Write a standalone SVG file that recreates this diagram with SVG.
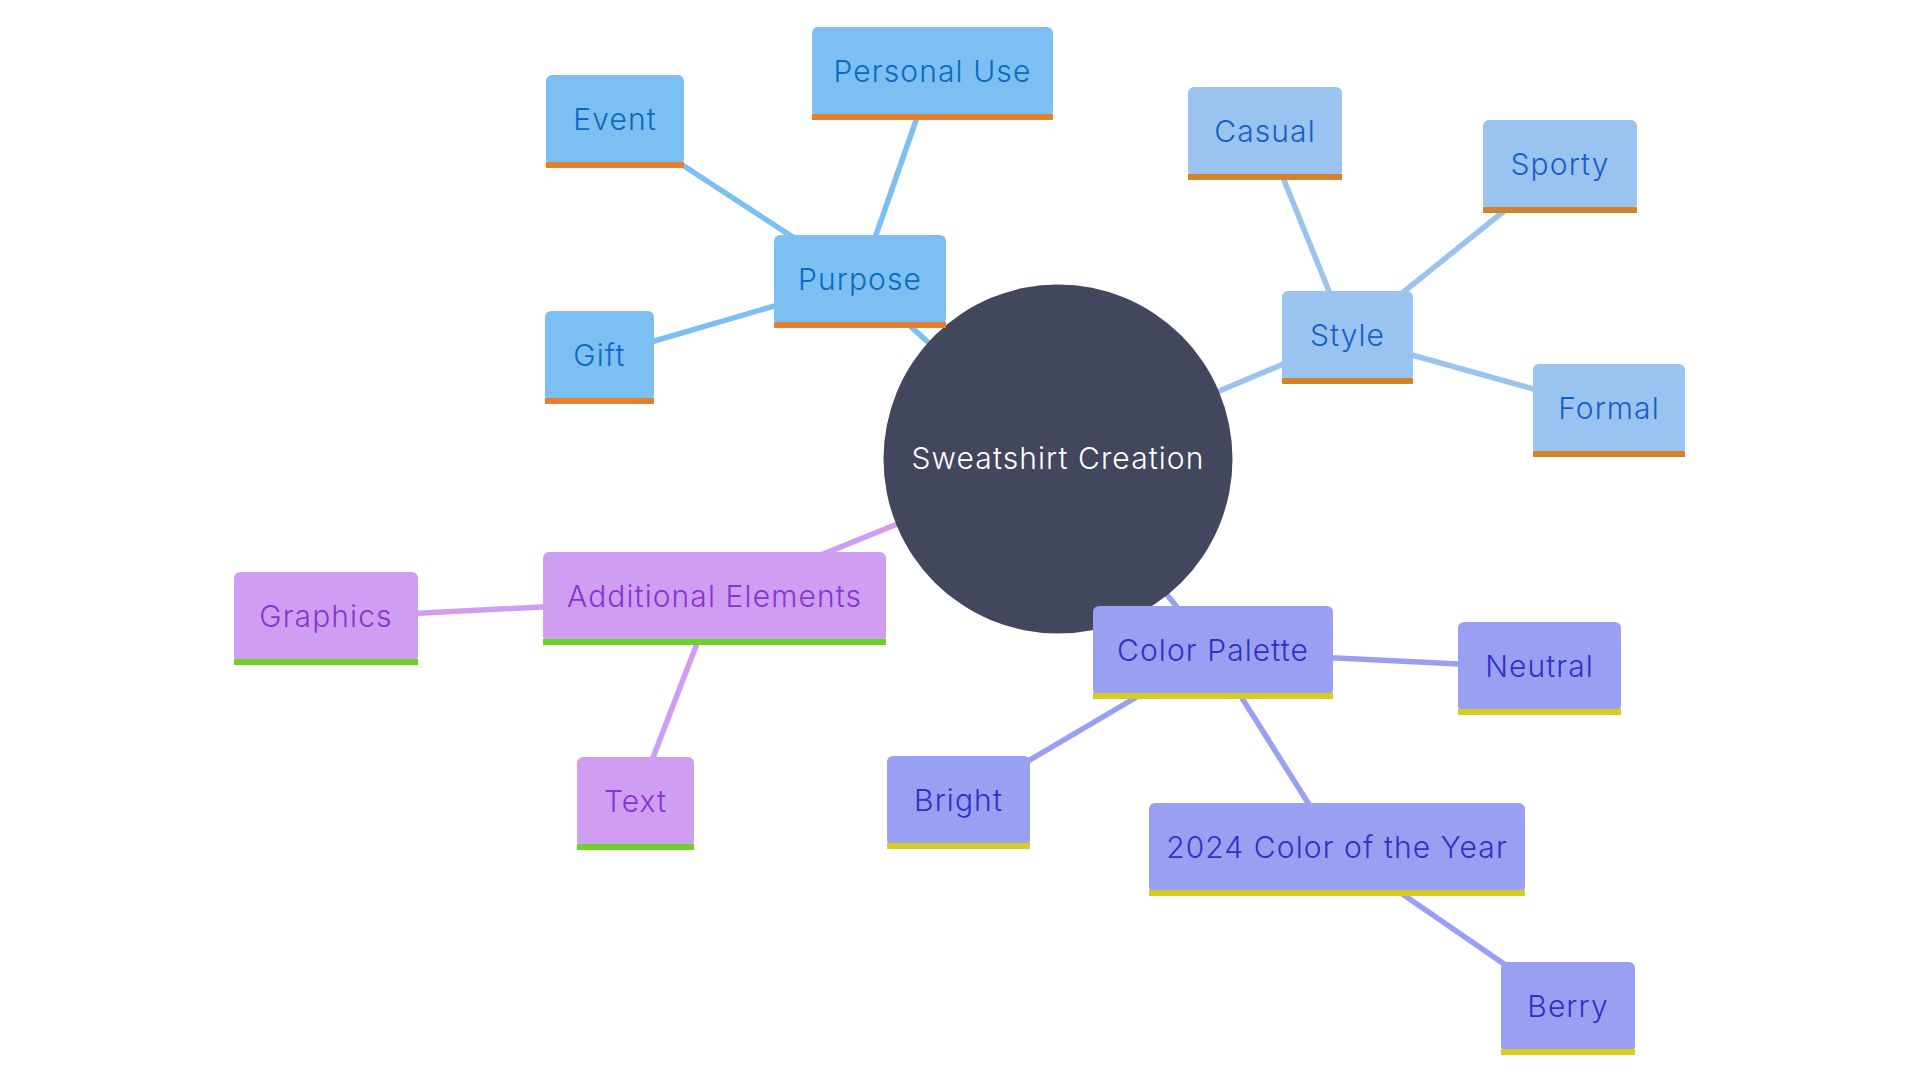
<svg xmlns="http://www.w3.org/2000/svg" width="1920" height="1080" viewBox="0 0 1920 1080">
<style>
text{font-family:Inter,"Noto Sans",sans-serif;font-size:30px;font-weight:300;letter-spacing:1.1px;text-anchor:middle;dominant-baseline:central}
.edge{stroke-width:5.5;fill:none}
.e-p{stroke:#7cbff2}.e-s{stroke:#9bc3ef}.e-a{stroke:#cf9ef2}.e-c{stroke:#99a0f2}
.n-p rect.b{fill:#7cbff2}.n-p rect.bar{fill:#e67f2f}.n-p text{fill:#0b6abf}
.n-s rect.b{fill:#9bc3ef}.n-s rect.bar{fill:#d5832a}.n-s text{fill:#1560c6}
.n-a rect.b{fill:#cf9ef2}.n-a rect.bar{fill:#6bd324}.n-a text{fill:#8a33d0}
.n-c rect.b{fill:#99a0f2}.n-c rect.bar{fill:#d6cc22}.n-c text{fill:#3030c4}
</style>
<rect width="1920" height="1080" fill="#ffffff"/>
<g id="connectors">
<line class="edge e-p" x1="1058" y1="459" x2="860" y2="281"/>
<line class="edge e-p" x1="860" y1="281" x2="615" y2="121"/>
<line class="edge e-p" x1="860" y1="281" x2="932.5" y2="73"/>
<line class="edge e-p" x1="860" y1="281" x2="599.5" y2="357"/>
<line class="edge e-s" x1="1058" y1="459" x2="1347.5" y2="337"/>
<line class="edge e-s" x1="1347.5" y1="337" x2="1265" y2="133"/>
<line class="edge e-s" x1="1347.5" y1="337" x2="1560" y2="166"/>
<line class="edge e-s" x1="1347.5" y1="337" x2="1609" y2="410"/>
<line class="edge e-a" x1="1058" y1="459" x2="714.5" y2="598"/>
<line class="edge e-a" x1="714.5" y1="598" x2="326" y2="618"/>
<line class="edge e-a" x1="714.5" y1="598" x2="635.5" y2="803"/>
<line class="edge e-c" x1="1058" y1="459" x2="1213" y2="652"/>
<line class="edge e-c" x1="1213" y1="652" x2="1539.5" y2="668"/>
<line class="edge e-c" x1="1213" y1="652" x2="958.5" y2="802"/>
<line class="edge e-c" x1="1213" y1="652" x2="1337" y2="849"/>
<line class="edge e-c" x1="1337" y1="849" x2="1568" y2="1008"/>
</g>
<g id="root">
<circle cx="1058" cy="459" r="174.5" fill="#42475e"/>
<text x="1058" y="458" fill="#ffffff">Sweatshirt Creation</text>
</g>
<g id="purpose" class="n-p"><rect class="b" x="774" y="235" width="172" height="90" rx="6"/><rect class="bar" x="774" y="322" width="172" height="6"/><text x="860" y="279">Purpose</text></g>
<g id="event" class="n-p"><rect class="b" x="546" y="75" width="138" height="90" rx="6"/><rect class="bar" x="546" y="162" width="138" height="6"/><text x="615" y="119">Event</text></g>
<g id="personal-use" class="n-p"><rect class="b" x="812" y="27" width="241" height="90" rx="6"/><rect class="bar" x="812" y="114" width="241" height="6"/><text x="932.5" y="71">Personal Use</text></g>
<g id="gift" class="n-p"><rect class="b" x="545" y="311" width="109" height="90" rx="6"/><rect class="bar" x="545" y="398" width="109" height="6"/><text x="599.5" y="355">Gift</text></g>
<g id="style" class="n-s"><rect class="b" x="1282" y="291" width="131" height="90" rx="6"/><rect class="bar" x="1282" y="378" width="131" height="6"/><text x="1347.5" y="335">Style</text></g>
<g id="casual" class="n-s"><rect class="b" x="1188" y="87" width="154" height="90" rx="6"/><rect class="bar" x="1188" y="174" width="154" height="6"/><text x="1265" y="131">Casual</text></g>
<g id="sporty" class="n-s"><rect class="b" x="1483" y="120" width="154" height="90" rx="6"/><rect class="bar" x="1483" y="207" width="154" height="6"/><text x="1560" y="164">Sporty</text></g>
<g id="formal" class="n-s"><rect class="b" x="1533" y="364" width="152" height="90" rx="6"/><rect class="bar" x="1533" y="451" width="152" height="6"/><text x="1609" y="408">Formal</text></g>
<g id="additional-elements" class="n-a"><rect class="b" x="543" y="552" width="343" height="90" rx="6"/><rect class="bar" x="543" y="639" width="343" height="6"/><text x="714.5" y="596">Additional Elements</text></g>
<g id="graphics" class="n-a"><rect class="b" x="234" y="572" width="184" height="90" rx="6"/><rect class="bar" x="234" y="659" width="184" height="6"/><text x="326" y="616">Graphics</text></g>
<g id="text" class="n-a"><rect class="b" x="577" y="757" width="117" height="90" rx="6"/><rect class="bar" x="577" y="844" width="117" height="6"/><text x="635.5" y="801">Text</text></g>
<g id="color-palette" class="n-c"><rect class="b" x="1093" y="606" width="240" height="90" rx="6"/><rect class="bar" x="1093" y="693" width="240" height="6"/><text x="1213" y="650">Color Palette</text></g>
<g id="neutral" class="n-c"><rect class="b" x="1458" y="622" width="163" height="90" rx="6"/><rect class="bar" x="1458" y="709" width="163" height="6"/><text x="1539.5" y="666">Neutral</text></g>
<g id="bright" class="n-c"><rect class="b" x="887" y="756" width="143" height="90" rx="6"/><rect class="bar" x="887" y="843" width="143" height="6"/><text x="958.5" y="800">Bright</text></g>
<g id="color-of-the-year" class="n-c"><rect class="b" x="1149" y="803" width="376" height="90" rx="6"/><rect class="bar" x="1149" y="890" width="376" height="6"/><text x="1337" y="847">2024 Color of the Year</text></g>
<g id="berry" class="n-c"><rect class="b" x="1501" y="962" width="134" height="90" rx="6"/><rect class="bar" x="1501" y="1049" width="134" height="6"/><text x="1568" y="1006">Berry</text></g>
</svg>
